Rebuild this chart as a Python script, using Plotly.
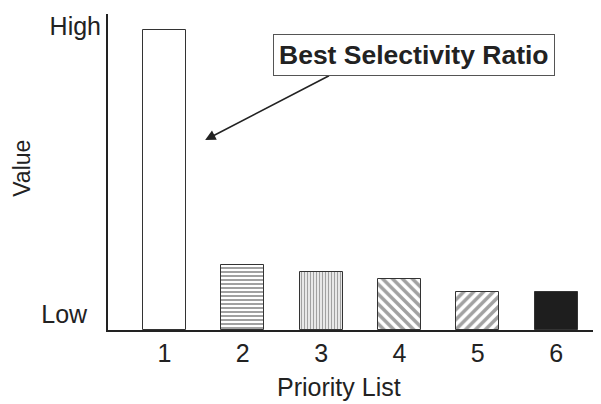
import plotly.graph_objects as go

categories = ["1", "2", "3", "4", "5", "6"]
positions = [1, 2, 3, 4, 5, 6]
values = [300, 65, 58, 51, 38, 38]
patterns = ["", "-", "|", "\\", "/", ""]
fills = ["white", "white", "white", "white", "white", "#1e1e1e"]
ytick_vals = [16, 304]
ytick_text = ["Low&nbsp;&nbsp;", "High"]

FONT = "Liberation Sans, Arial, sans-serif"

fig = go.Figure()
fig.add_trace(go.Bar(
    x=positions, y=values, width=0.55,
    marker=dict(
        color=fills,
        line=dict(color="#333", width=1),
        pattern=dict(shape=patterns, fgcolor="#000", bgcolor="white",
                     size=[4, 4, 3, 7, 7, 4], solidity=0.5, fillmode="overlay"),
    ),
    showlegend=False,
))

# page body has an 8px margin, compensate so the plot lands at the reference position
fig.update_layout(
    width=593, height=396,
    margin=dict(l=100, r=1, t=6, b=74, autoexpand=False),
    paper_bgcolor="white", plot_bgcolor="white",
    font=dict(family=FONT, color="#222", size=22),
    bargap=0,
    xaxis=dict(range=[0.28, 6.56], tickvals=positions, ticktext=categories,
               showline=True, linecolor="#222", linewidth=2, showgrid=False,
               zeroline=False, ticks="", tickfont=dict(size=25), automargin=False,
               ticklabelstandoff=0),
    yaxis=dict(range=[0, 316], tickvals=ytick_vals, ticktext=ytick_text,
               showline=True, linecolor="#222", linewidth=2, showgrid=False,
               zeroline=False, ticks="", tickfont=dict(size=25), automargin=False,
               ticklabelstandoff=0),
)

fig.add_annotation(x=0.4695, y=-0.18, xref="paper", yref="paper", text="Priority List",
                   xanchor="center", yanchor="middle", borderpad=0,
                   showarrow=False, font=dict(size=25, color="#222"))
fig.add_annotation(x=-0.175, y=0.513, xref="paper", yref="paper", text="Value",
                   xanchor="center", yanchor="middle",
                   textangle=-90, showarrow=False, font=dict(size=23, color="#222"))

fig.add_annotation(x=1.52, y=190, ax=3.12, ay=255, axref="x", ayref="y",
                   xref="x", yref="y", text="", showarrow=True,
                   arrowhead=2, arrowsize=1.3, arrowwidth=1.6, arrowcolor="#222")
fig.add_annotation(x=4.18, y=275, xref="x", yref="y", text="<b>Best Selectivity Ratio</b>",
                   showarrow=False, bordercolor="#555", borderwidth=1, borderpad=5,
                   bgcolor="white", font=dict(size=26.5, color="#222"))

fig.write_html("out.html")
